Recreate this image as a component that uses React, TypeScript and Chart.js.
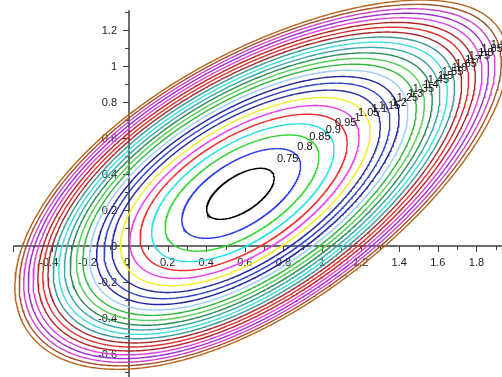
import React, { useEffect, useRef } from 'react';
import { Chart, registerables } from 'chart.js';

Chart.register(...registerables);

// Contour levels and their colours
const LEVELS = [0.7, 0.75, 0.8, 0.85, 0.9, 0.95, 1, 1.05, 1.1, 1.15, 1.2, 1.25, 1.3, 1.35, 1.4, 1.45, 1.5, 1.55, 1.6, 1.65, 1.7, 1.75, 1.8, 1.85, 1.9];
const LEVEL_COLORS = [
  '#000000', '#2a3cf0', '#33d633', '#22e3e3', '#f02c2c', '#ee3cee', '#f2ee2a',
  '#28309a', '#3344cc', '#22249a', '#9cccf8', '#33b640', '#55cc55', '#2e8b57',
  '#3aa6a6', '#40dcdc', '#3a9898', '#a52a2a', '#e03030', '#b42424', '#e040e0',
  '#9932cc', '#cc44cc', '#a0522d', '#b5651d',
];
const LEVEL_LABELS = ['', '0.75', '0.8', '0.85', '0.9', '0.95', '1', '1.05', '1.1', '1.15', '1.2', '1.25', '1.3', '1.35', '1.4', '1.45', '1.5', '1.55', '1.6', '1.65', '1.7', '1.75', '1.8', '1.85', '1.9'];

// Axis ticks
const X_TICKS = [-0.4, -0.2, 0, 0.2, 0.4, 0.6, 0.8, 1, 1.2, 1.4, 1.6, 1.8];
const Y_TICKS = [-0.6, -0.4, -0.2, 0, 0.2, 0.4, 0.6, 0.8, 1, 1.2];
const X_TICK_TEXT = ['-0.4', '-0.2', '0', '0.2', '0.4', '0.6', '0.8', '1', '1.2', '1.4', '1.6', '1.8'];
const Y_TICK_TEXT = ['-0.6', '-0.4', '-0.2', '0', '0.2', '0.4', '0.6', '0.8', '1', '1.2'];
const X_AXIS_EXTENT = [-0.6, 1.95];
const Y_AXIS_EXTENT = [-0.75, 1.31];
const VIEW_X = [-0.6684, 1.9326];
const VIEW_Y = [-0.7278, 1.3667];

// Surface: minimum value, its location, quadratic form, skew
const SURFACE_MIN = 0.676;
const SURFACE_CENTER = [0.575, 0.289];
const SURFACE_QUAD = [1.221, -0.901, 1.857];
const SURFACE_SKEW_ANGLE = 30;
const SURFACE_SKEW = 0.075;

function surface(x: number, y: number): number {
  const dx = x - SURFACE_CENTER[0];
  const dy = y - SURFACE_CENTER[1];
  const [a, b, c] = SURFACE_QUAD;
  const ang = (SURFACE_SKEW_ANGLE * Math.PI) / 180;
  const t = dx * Math.cos(ang) + dy * Math.sin(ang);
  return SURFACE_MIN + a * dx * dx + 2 * b * dx * dy + c * dy * dy - SURFACE_SKEW * t * t * t;
}

function radiusOnRay(level: number, theta: number): number {
  const vx = Math.cos(theta);
  const vy = Math.sin(theta);
  let lo = 0;
  let hi = 4;
  for (let i = 0; i < 50; i++) {
    const mid = (lo + hi) / 2;
    const v = surface(SURFACE_CENTER[0] + mid * vx, SURFACE_CENTER[1] + mid * vy);
    if (v < level) lo = mid;
    else hi = mid;
  }
  return (lo + hi) / 2;
}

function contour(level: number) {
  const pts: { x: number; y: number }[] = [];
  const n = 720;
  for (let i = 0; i <= n; i++) {
    const th = (2 * Math.PI * i) / n;
    const r = radiusOnRay(level, th);
    pts.push({ x: SURFACE_CENTER[0] + r * Math.cos(th), y: SURFACE_CENTER[1] + r * Math.sin(th) });
  }
  return pts;
}

const FONT = '11px "Liberation Sans", Arial, sans-serif';

const axesPlugin = {
  id: 'crossAxes',
  beforeDatasetsDraw(chart: any) {
    const { ctx } = chart;
    const xs = chart.scales.x;
    const ys = chart.scales.y;
    const x0 = xs.getPixelForValue(0);
    const y0 = ys.getPixelForValue(0);
    ctx.save();
    ctx.strokeStyle = '#3c3c3c';
    ctx.lineWidth = 1.5;
    ctx.beginPath();
    ctx.moveTo(xs.getPixelForValue(X_AXIS_EXTENT[0]), y0);
    ctx.lineTo(xs.getPixelForValue(X_AXIS_EXTENT[1]), y0);
    ctx.moveTo(x0, ys.getPixelForValue(Y_AXIS_EXTENT[1]));
    ctx.lineTo(x0, ys.getPixelForValue(Y_AXIS_EXTENT[0]));
    ctx.stroke();
    ctx.lineWidth = 1;
    ctx.beginPath();
    for (let k = -6; k <= 19; k++) {
      if (k === 0) continue;
      const px = Math.round(xs.getPixelForValue(k / 10)) + 0.5;
      const len = k % 2 === 0 ? 6 : 4;
      ctx.moveTo(px, y0);
      ctx.lineTo(px, y0 + len);
    }
    for (let k = -7; k <= 13; k++) {
      if (k === 0) continue;
      const py = Math.round(ys.getPixelForValue(k / 10)) + 0.5;
      const len = k % 2 === 0 ? 6 : 4;
      ctx.moveTo(x0, py);
      ctx.lineTo(x0 - len, py);
    }
    ctx.stroke();
    ctx.fillStyle = '#222';
    ctx.font = FONT;
    ctx.textAlign = 'center';
    ctx.textBaseline = 'middle';
    X_TICKS.forEach((v, i) => {
      const shift = v < 0 ? -3 : v === 0 ? -2 : 0;
      ctx.fillText(X_TICK_TEXT[i], xs.getPixelForValue(v) + shift, y0 + 17);
    });
    ctx.textAlign = 'right';
    Y_TICKS.forEach((v, i) => {
      ctx.fillText(Y_TICK_TEXT[i], x0 - 12, ys.getPixelForValue(v) + 1);
    });
    ctx.restore();
  },
};

const labelPlugin = {
  id: 'contourLabels',
  afterDatasetsDraw(chart: any) {
    const { ctx } = chart;
    const xs = chart.scales.x;
    const ys = chart.scales.y;
    const cx = xs.getPixelForValue(SURFACE_CENTER[0]);
    const cy = ys.getPixelForValue(SURFACE_CENTER[1]);
    ctx.save();
    ctx.fillStyle = '#111';
    ctx.font = FONT;
    ctx.textAlign = 'center';
    ctx.textBaseline = 'middle';
    LEVELS.forEach((lv, i) => {
      const text = LEVEL_LABELS[i];
      if (!text) return;
      const deg = Math.max(32, 40 - 18 * (lv - 0.75));
      const th = (deg * Math.PI) / 180;
      const r = radiusOnRay(lv, th);
      const px = xs.getPixelForValue(SURFACE_CENTER[0] + r * Math.cos(th));
      const py = ys.getPixelForValue(SURFACE_CENTER[1] + r * Math.sin(th));
      const ddx = px - cx;
      const ddy = py - cy;
      const d = Math.hypot(ddx, ddy) || 1;
      const inward = 7;
      ctx.fillText(text, px - (ddx / d) * inward, py - (ddy / d) * inward + 2);
    });
    ctx.restore();
  },
};

export default function App() {
  const ref = useRef<HTMLCanvasElement | null>(null);
  useEffect(() => {
    if (!ref.current) return;
    const datasets = LEVELS.map((lv, i) => ({
      label: String(lv),
      data: contour(lv),
      showLine: true,
      borderColor: LEVEL_COLORS[i],
      backgroundColor: LEVEL_COLORS[i],
      borderWidth: 1.4,
      pointRadius: 0,
      pointHoverRadius: 0,
      fill: false,
      tension: 0,
    }));
    const chart = new Chart(ref.current, {
      type: 'scatter',
      data: { datasets },
      options: {
        animation: false,
        responsive: false,
        maintainAspectRatio: false,
        devicePixelRatio: 1,
        layout: { padding: 0 },
        events: [],
        plugins: { legend: { display: false }, tooltip: { enabled: false } },
        scales: {
          x: { type: 'linear', min: VIEW_X[0], max: VIEW_X[1], display: false },
          y: { type: 'linear', min: VIEW_Y[0], max: VIEW_Y[1], display: false },
        },
      },
      plugins: [axesPlugin, labelPlugin],
    });
    return () => chart.destroy();
  }, []);
  return (
    <div style={{ position: 'absolute', left: 0, top: 0, width: 502, height: 377, background: '#fff' }}>
      <canvas ref={ref} width={502} height={377} style={{ display: 'block', width: 502, height: 377 }} />
    </div>
  );
}
